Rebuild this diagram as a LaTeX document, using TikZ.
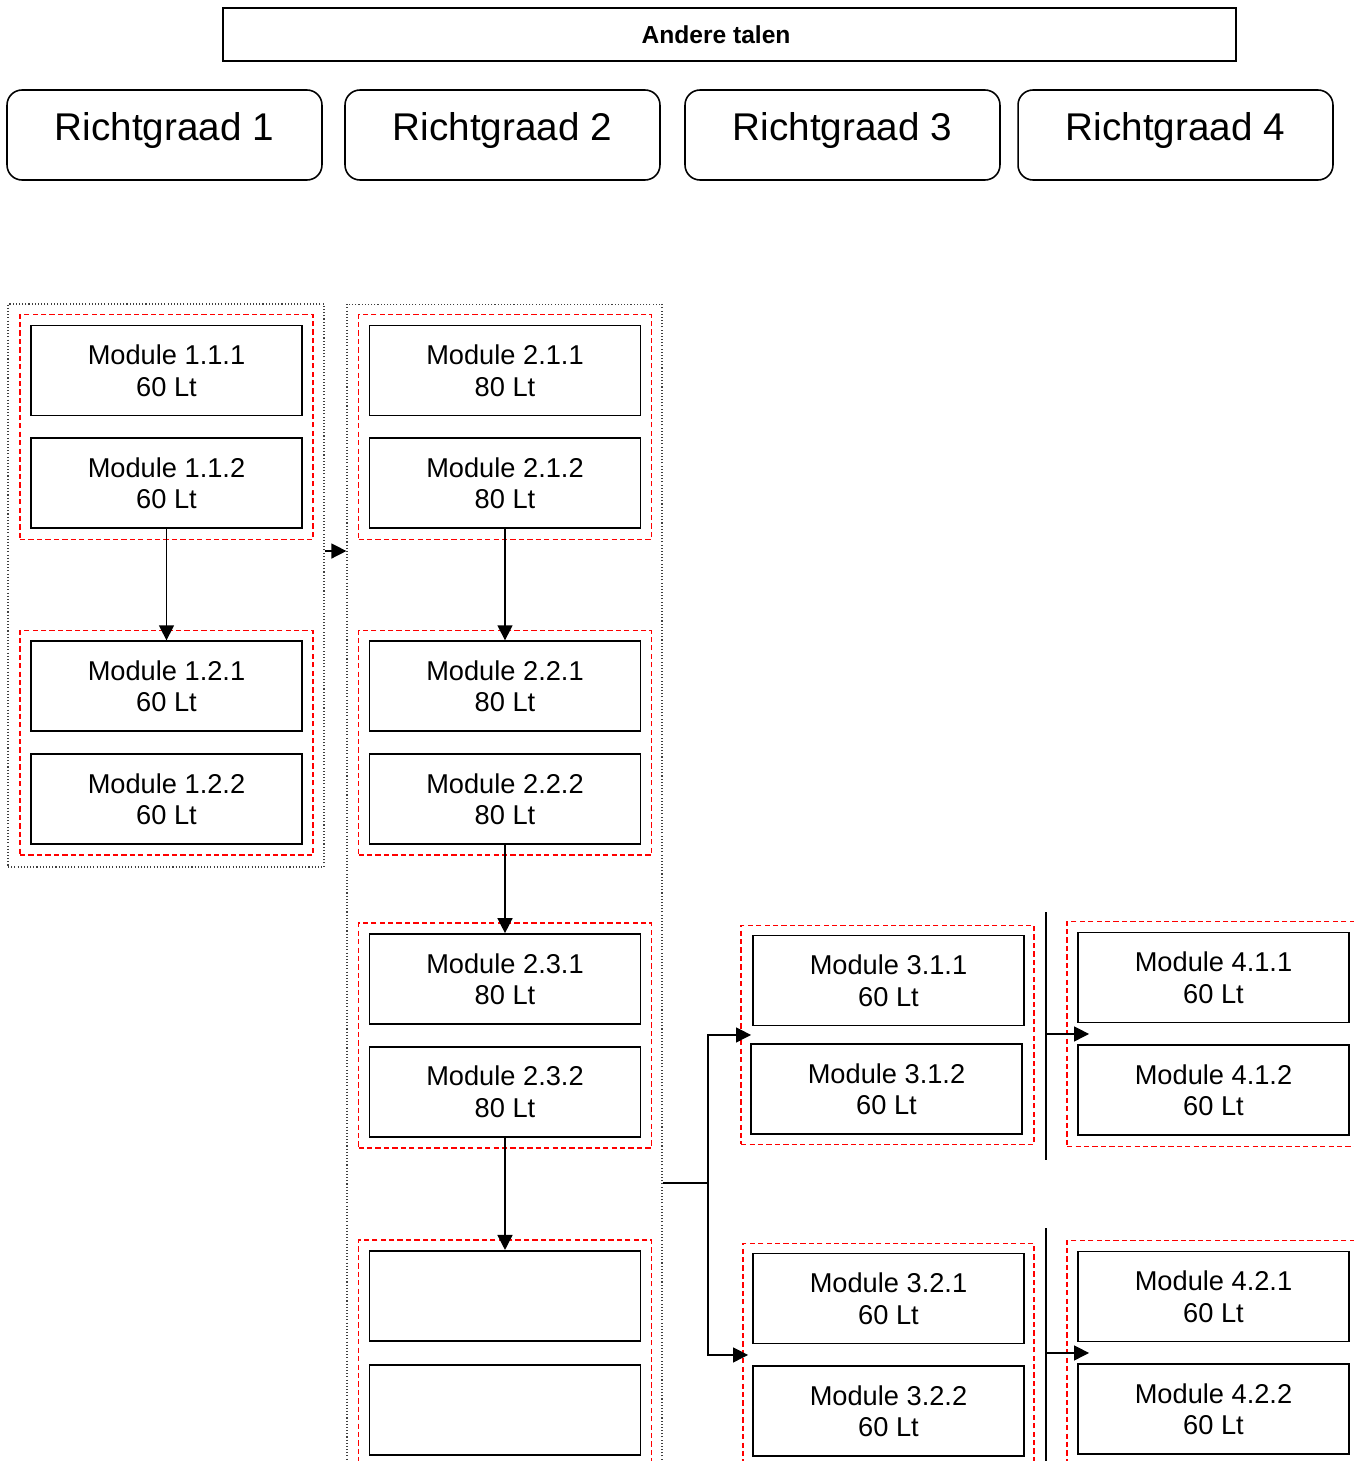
\documentclass[tikz,border=0pt]{standalone}
\usepackage{fontspec}
\setmainfont{Liberation Sans}
\usetikzlibrary{positioning, fit, calc, arrows.meta}

\begin{document}
\begin{tikzpicture}[
    x=0.02cm, y=-0.02cm,
    module/.style={rectangle, draw=black, line width=1.1pt, minimum width=5.42cm, minimum height=1.8cm, inner sep=0pt, align=center, font=\fontsize{15.5}{18}\selectfont},
    level/.style={rectangle, rounded corners=0.3cm, draw=black, line width=0.9pt, minimum width=6.3cm, minimum height=1.8cm, inner sep=0pt, text height=0.8cm, text depth=0.6cm, font=\fontsize{22}{26}\selectfont},
    group/.style={rectangle, draw=red, dash pattern=on 3pt off 1.8pt, line width=0.9pt, inner sep=0.2cm},
    column/.style={rectangle, draw=black!75, dash pattern=on 0.6pt off 1.2pt, line width=0.7pt},
    arrow/.style={-{Triangle[length=0.3cm, width=0.3cm]}, line width=0.8pt},
    bar/.style={line width=0.9pt}
]
\useasboundingbox (0,0) rectangle (1354,1461);
\clip (0,0) rectangle (1354,1461);

% Header
\node (talen) [draw, line width=0.9pt, minimum width=20.26cm, minimum height=1.06cm, font=\bfseries\fontsize{14}{16}\selectfont] at (729.5,34.5) {\hspace*{-0.54cm}Andere talen};
\node (rg1) [level] at (164.5,135) {Richtgraad 1};
\node (rg2) [level] at (502.5,135) {Richtgraad 2};
\node (rg3) [level] at (842.5,135) {Richtgraad 3};
\node (rg4) [level] at (1175.5,135) {Richtgraad 4};

% Richtgraad 1
\node (col1) [column, minimum width=6.32cm, minimum height=11.26cm] at (166,585.5) {};
\node (m111) [module] at (166.5,370.5) {Module 1.1.1\\60 Lt};
\node (m112) [module, below=0.42cm of m111] {Module 1.1.2\\60 Lt};
\node (m121) [module, below=2.22cm of m112] {Module 1.2.1\\60 Lt};
\node (m122) [module, below=0.42cm of m121] {Module 1.2.2\\60 Lt};
\node (g11) [group, fit=(m111) (m112)] {};
\node (g12) [group, fit=(m121) (m122)] {};

% Richtgraad 2
\node (col2) [column, minimum width=6.3cm, minimum height=23.52cm] at (504.5,892) {};
\node (m211) [module] at (505,370.5) {Module 2.1.1\\80 Lt};
\node (m212) [module, below=0.42cm of m211] {Module 2.1.2\\80 Lt};
\node (m221) [module, below=2.22cm of m212] {Module 2.2.1\\80 Lt};
\node (m222) [module, below=0.42cm of m221] {Module 2.2.2\\80 Lt};
\node (m231) [module, below=1.76cm of m222] {Module 2.3.1\\80 Lt};
\node (m232) [module, below=0.42cm of m231] {Module 2.3.2\\80 Lt};
\node (m241) [module, below=2.24cm of m232] {};
\node (m242) [module, below=0.44cm of m241] {};
\node (g21) [group, fit=(m211) (m212)] {};
\node (g22) [group, fit=(m221) (m222)] {};
\node (g23) [group, fit=(m231) (m232)] {};
\node (g24) [group, fit=(m241) (m242)] {};

% Richtgraad 3
\node (m311) [module] at (888.5,980.5) {Module 3.1.1\\60 Lt};
\node (m312) [module, below=0.34cm of m311, xshift=-0.04cm] {Module 3.1.2\\60 Lt};
\node (m321) [module] at (888.5,1298.5) {Module 3.2.1\\60 Lt};
\node (m322) [module, below=0.42cm of m321] {Module 3.2.2\\60 Lt};
\node (g31) [group, inner sep=0.18cm, fit=(m311) (m312)] {};
\node (g32) [group, inner sep=0.18cm, fit=(m321) (m322)] {};

% Richtgraad 4
\node (m411) [module] at (1213.5,977.5) {Module 4.1.1\\60 Lt};
\node (m412) [module, below=0.42cm of m411] {Module 4.1.2\\60 Lt};
\node (m421) [module] at (1213.5,1296.5) {Module 4.2.1\\60 Lt};
\node (m422) [module, below=0.42cm of m421] {Module 4.2.2\\60 Lt};
\node (g41) [group, fit=(m411) (m412)] {};
\node (g42) [group, fit=(m421) (m422)] {};

% Split points and bars
\coordinate (split) at (708,1183);
\coordinate (bar1top) at (1046,912);
\coordinate (bar1bot) at (1046,1160);
\coordinate (bar2top) at (1046,1228);
\coordinate (bar2bot) at (1046,1470);

% Arrows
\draw[arrow] (m112) -- (m121);
\draw[arrow] (m212) -- (m221);
\draw[arrow] (m222) -- (m231);
\draw[arrow] (m232) -- (m241);
\draw[arrow] ([yshift=0.69cm]col1.east) -- ([yshift=0.69cm]col1.east -| col2.west);
\draw[line width=0.8pt] (col2.east |- split) -- (split);
\draw[arrow] (split) |- ($(m311.west)!0.5!(m312.west)$);
\draw[arrow] (split) |- ($(m321.west)!0.5!(m322.west)+(-4,0)$);
\draw[bar] (bar1top) -- (bar1bot);
\draw[bar] (bar2top) -- (bar2bot);
\draw[arrow] ($(bar1top |- m411.west)!0.5!(bar1top |- m412.west)$) -- ($(m411.west)!0.5!(m412.west)+(12,0)$);
\draw[arrow] ($(bar2top |- m421.west)!0.5!(bar2top |- m422.west)$) -- ($(m421.west)!0.5!(m422.west)+(12,0)$);

\end{tikzpicture}
\end{document}
